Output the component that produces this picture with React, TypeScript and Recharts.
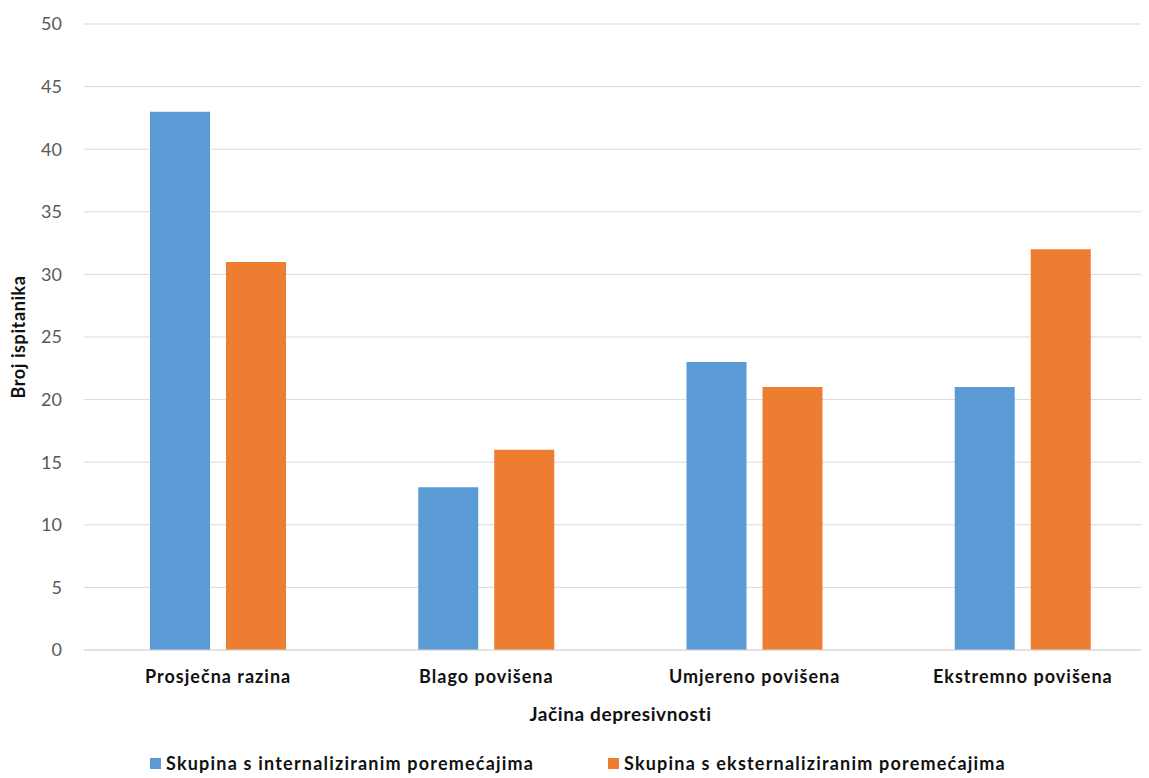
import { BarChart, Bar, XAxis, YAxis, CartesianGrid, Legend } from 'recharts'

const categories = ['Prosječna razina', 'Blago povišena', 'Umjereno povišena', 'Ekstremno povišena']
const internalizirani = [43, 13, 23, 21]
const eksternalizirani = [31, 16, 21, 32]
const yTicks = [0, 5, 10, 15, 20, 25, 30, 35, 40, 45, 50]

const seriesNames = ['Skupina s internaliziranim poremećajima', 'Skupina s eksternaliziranim poremećajima']
const colors = ['#5b9bd5', '#ed7d31']

const data = categories.map((name, i) => ({
    name,
    internal: internalizirani[i],
    external: eksternalizirani[i],
}))

const font = 'Lato, "Open Sans", sans-serif'

const renderLegend = () => {
    return (
        <div style={{ display: 'flex', justifyContent: 'flex-start', paddingLeft: 150, fontFamily: font, fontWeight: 700, fontSize: 18, letterSpacing: 1.2, color: '#111', lineHeight: '22px' }}>
            {seriesNames.map((s, i) => (
                <div key={s} style={{ display: 'flex', alignItems: 'center', width: i === 0 ? 458 : 'auto', whiteSpace: 'nowrap' }}>
                    <span style={{ display: 'inline-block', width: 11, height: 11, background: colors[i], marginRight: 5 }} />
                    <span>{s}</span>
                </div>
            ))}
        </div>
    )
}

const App = () => {
    return (
        <div style={{ marginLeft: -8, marginTop: -8, width: 1149, height: 778, overflow: 'hidden', background: '#fff' }}>
            <BarChart width={1165} height={778} data={data}
                margin={{ top: 24, right: 8, bottom: 16, left: 0 }}
                barCategoryGap={66} barGap={16}>
                <CartesianGrid vertical={false} stroke="#d9d9d9" />
                <XAxis dataKey="name" axisLine={{ stroke: '#d9d9d9' }} tickLine={false} height={90}
                    tick={{ fill: '#111', fontSize: 18, fontWeight: 700, fontFamily: font, letterSpacing: 1 }} tickMargin={14}
                    label={{ value: 'Jačina depresivnosti', position: 'insideTop', offset: 58, style: { fill: '#111', fontSize: 19, fontWeight: 700, fontFamily: font, letterSpacing: 0.6 } }} />
                <YAxis width={84} domain={[0, 50]} ticks={yTicks} axisLine={false} tickLine={false} tickSize={0} tickMargin={22}
                    tick={{ fill: '#595959', fontSize: 18, fontFamily: font }}
                    label={{ value: 'Broj ispitanika', angle: -90, position: 'insideLeft', offset: 19, style: { textAnchor: 'middle', fill: '#111', fontSize: 18, fontWeight: 700, fontFamily: font, letterSpacing: 0.6 } }} />
                <Legend verticalAlign="bottom" align="left" content={renderLegend} wrapperStyle={{ width: 1149, left: 0, bottom: 4 }} />
                <Bar dataKey="internal" name={seriesNames[0]} fill={colors[0]} isAnimationActive={false} />
                <Bar dataKey="external" name={seriesNames[1]} fill={colors[1]} isAnimationActive={false} />
            </BarChart>
        </div>
    )
}

export default App
